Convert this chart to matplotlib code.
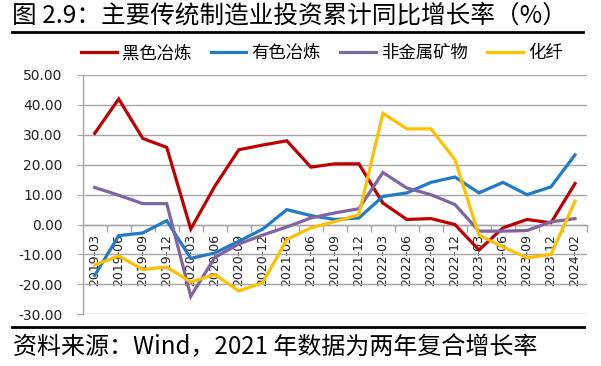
import matplotlib
matplotlib.use("Agg")
import matplotlib.pyplot as plt
from matplotlib.lines import Line2D
import numpy as np

plt.rcParams['font.family'] = ['Noto Sans CJK SC', 'DejaVu Sans']

categories = ['2019-03', '2019-06', '2019-09', '2019-12', '2020-03', '2020-06', '2020-09',
              '2020-12', '2021-03', '2021-06', '2021-09', '2021-12', '2022-03', '2022-06',
              '2022-09', '2022-12', '2023-03', '2023-06', '2023-09', '2023-12', '2024-02']
ferrous = [30.5, 42.0, 28.8, 25.8, -1.5, 12.8, 25.0, 26.6, 28.0, 19.2, 20.3, 20.3,
           7.2, 1.7, 2.0, 0.0, -8.5, -1.1, 1.7, 0.6, 13.7]
nonferrous = [-17.0, -3.7, -2.8, 1.3, -11.3, -9.5, -5.6, -1.5, 5.0, 3.0, 1.7, 2.2,
              9.4, 10.6, 14.1, 15.9, 10.6, 14.1, 10.0, 12.6, 23.3]
nonmetal = [12.4, 9.8, 7.0, 7.0, -24.0, -11.0, -6.5, -3.5, -0.8, 2.2, 3.9, 5.3,
            17.4, 12.2, 10.0, 6.7, -2.2, -2.2, -2.0, 0.9, 2.0]
fiber = [-13.5, -10.5, -15.0, -14.2, -19.2, -16.7, -22.2, -19.4, -5.0, -1.1, 1.0, 3.3,
         37.2, 32.0, 32.0, 21.7, -3.5, -7.5, -11.1, -10.0, 7.8]
series_names = ['黑色冶炼', '有色冶炼', '非金属矿物', '化纤']
series_colors = ['#C00000', '#1F7BC8', '#8064A2', '#FFC000']
yticks = [-30, -20, -10, 0, 10, 20, 30, 40, 50]

title = '图 2.9：主要传统制造业投资累计同比增长率（%）'
source = '资料来源：Wind，2021 年数据为两年复合增长率'

W, H = 601, 366
fig = plt.figure(figsize=(W / 100, H / 100), dpi=100)
ax = fig.add_axes([82.7 / W, (H - 314.3) / H, (587 - 82.7) / W, (314.3 - 75) / H])

# spines first (set_position resets ticks)
ax.spines['bottom'].set_position(('data', 0))
ax.spines['bottom'].set_color('#A6A6A6')
ax.spines['left'].set_color('#A6A6A6')
ax.spines['top'].set_visible(False)
ax.spines['right'].set_visible(False)
for s in ['bottom', 'left']:
    ax.spines[s].set_linewidth(1.0)

x = np.arange(len(categories))
handles = []
for vals, name, col in zip([ferrous, nonferrous, nonmetal, fiber], series_names, series_colors):
    ln, = ax.plot(x, vals, color=col, lw=2.3, label=name, solid_joinstyle='miter', zorder=3)
    handles.append(ln)

ax.set_xlim(-0.5, len(categories) - 0.5)
ax.set_ylim(-30, 50)
ax.set_yticks(yticks)
ax.set_yticklabels([f'{v:.2f}' for v in yticks], fontfamily='DejaVu Sans', fontsize=10)
ax.yaxis.grid(True, color='#A6A6A6', lw=1.0)
ax.set_axisbelow(True)
ax.tick_params(axis='y', length=4.5, color='#A6A6A6', pad=10, labelcolor='#222222')

ax.set_xticks(x)
ax.set_xticklabels(categories, rotation=90, fontfamily='DejaVu Sans', fontsize=9,
                   va='top', ha='center')
ax.tick_params(axis='x', which='major', length=0, pad=7, labelcolor='#222222')
ax.set_xticks(np.arange(0.5, len(categories) + 0.5, 1), minor=True)
ax.tick_params(axis='x', which='minor', length=5, color='#A6A6A6', width=1.0)

fig.text(12 / W, 1 - 16 / H, title, fontsize=17.7, va='center', ha='left')
fig.add_artist(Line2D([11.7 / W, 583 / W], [1 - 32.3 / H] * 2, color='black', lw=2.0))
fig.add_artist(Line2D([11.7 / W, 584 / W], [1 - 327.3 / H] * 2, color='black', lw=2.0))
fig.text(13 / W, 1 - 347 / H, source, fontsize=17.3, va='center', ha='left')

fig.legend(handles=handles, labels=series_names, ncol=4, loc='center',
           bbox_to_anchor=(322 / W, 1 - 53.3 / H), frameon=False,
           prop={'family': ['Noto Sans CJK SC'], 'size': 12.5},
           handlelength=2.06, handletextpad=0.3, columnspacing=1.1, borderaxespad=0)

fig.savefig('out.png', dpi=100)
